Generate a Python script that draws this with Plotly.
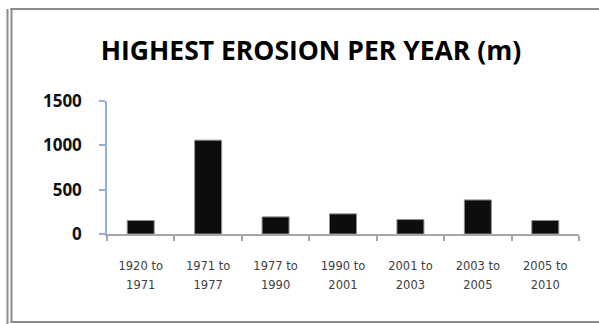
import plotly.graph_objects as go

# Erosion periods and the highest erosion recorded per year in each (metres)
period_start = ["1920", "1971", "1977", "1990", "2001", "2003", "2005"]
period_end = ["1971", "1977", "1990", "2001", "2003", "2005", "2010"]
erosion_m = [152, 1058, 193, 227, 163, 384, 152]
y_ticks = [0, 500, 1000, 1500]

periods = [f"{a} to {b}" for a, b in zip(period_start, period_end)]
period_labels = [f"<span style='font-size:11.5px'>{a} to<br>{b}</span>"
                 for a, b in zip(period_start, period_end)]

W, H = 599, 324
L, R, T, B = 107, 20, 101, 90
PW, PH = W - L - R, H - T - B


def px(x):
    return (x - L) / PW


def py(y):
    return 1 - (y - T) / PH


fig = go.Figure(go.Bar(
    x=periods, y=erosion_m,
    marker=dict(color="#0d0d0d", line=dict(color="#8c8c8c", width=1)),
))

# chart frame: double rule on the left, single rules top and bottom
frame = "#8c8c8c"
shapes = [
    dict(type="line", xref="paper", yref="paper", x0=px(7.5), x1=px(7.5), y0=py(9), y1=py(330),
         line=dict(color=frame, width=2)),
    dict(type="line", xref="paper", yref="paper", x0=px(11.5), x1=px(11.5), y0=py(8), y1=py(322.5),
         line=dict(color=frame, width=2)),
    dict(type="line", xref="paper", yref="paper", x0=px(10.5), x1=px(640), y0=py(9), y1=py(9),
         line=dict(color=frame, width=2)),
    dict(type="line", xref="paper", yref="paper", x0=px(10.5), x1=px(640), y0=py(322), y1=py(322),
         line=dict(color=frame, width=2)),
]

fig.update_layout(
    width=W, height=H,
    margin=dict(l=L, r=R, t=T, b=B, pad=0),
    paper_bgcolor="white", plot_bgcolor="white",
    showlegend=False,
    shapes=shapes,
    title=dict(text="<b>HIGHEST EROSION PER YEAR (m)</b>", x=311 / W, xanchor="center",
               y=1 - 51 / H, yanchor="middle",
               font=dict(family="Open Sans", size=26.5, color="#000000")),
    xaxis=dict(
        tickvals=periods, ticktext=period_labels,
        showline=True, linecolor="#a6a6a6", linewidth=1.5,
        ticks="outside", tickson="boundaries", ticklen=5, tickcolor="#a6a6a6", tickwidth=1.5,
        showgrid=False, zeroline=False,
        tickfont=dict(family="DejaVu Sans", size=14.6, color="#404040"),
        ticklabelstandoff=17,
        fixedrange=True,
    ),
    yaxis=dict(
        range=[0, 1500], tickvals=y_ticks,
        showline=True, linecolor="#8eb0dc", linewidth=1.5,
        ticks="outside", ticklen=6, tickcolor="#8eb0dc", tickwidth=1.5,
        showgrid=False, zeroline=False,
        tickfont=dict(family="Open Sans", size=17, color="#111111", weight="bold"),
        ticklabelstandoff=14,
        fixedrange=True,
    ),
    bargap=0.6,
)

fig.write_html("out.html", config={"displayModeBar": False})
